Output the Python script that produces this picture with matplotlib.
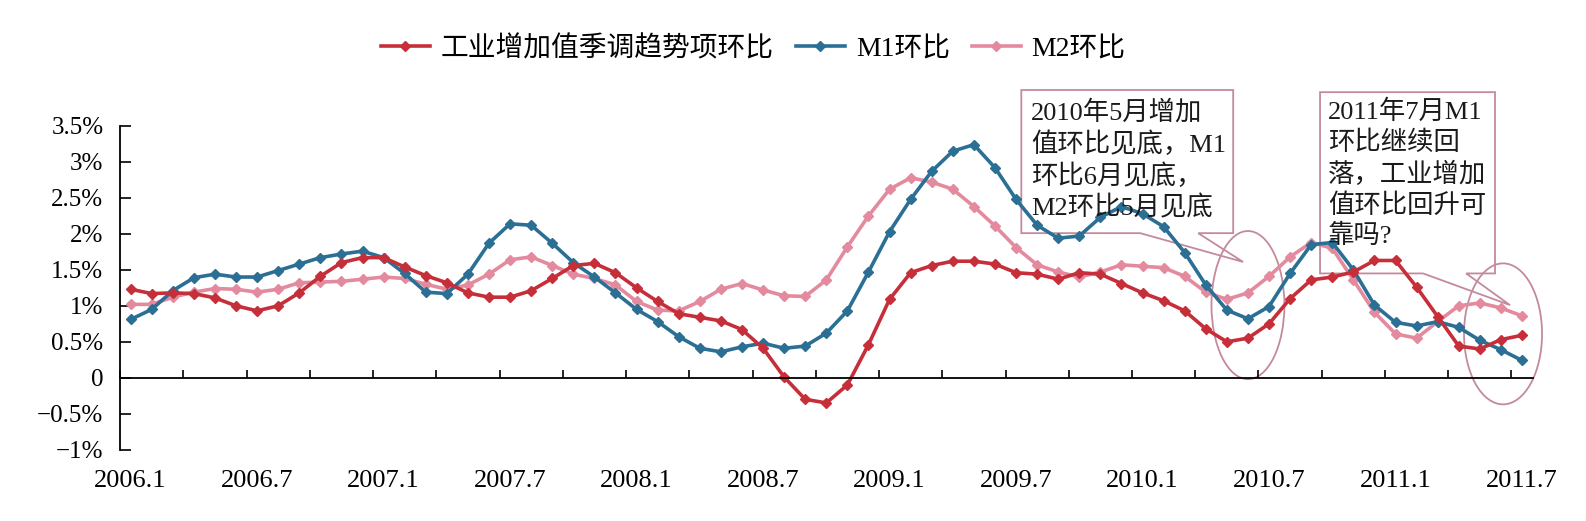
import matplotlib.pyplot as plt
from matplotlib.patches import Polygon, Ellipse
from matplotlib.transforms import blended_transform_factory

# monthly data 2006.1 - 2011.7 (%)
industry = [1.23, 1.17, 1.18, 1.17, 1.11, 1.00, 0.93, 1.00, 1.18, 1.41, 1.60, 1.67,
            1.67, 1.54, 1.42, 1.32, 1.18, 1.12, 1.12, 1.21, 1.38, 1.56, 1.59, 1.46,
            1.25, 1.06, 0.89, 0.84, 0.79, 0.67, 0.41, 0.01, -0.30, -0.35, -0.10, 0.46,
            1.09, 1.46, 1.56, 1.62, 1.62, 1.58, 1.46, 1.44, 1.37, 1.46, 1.44, 1.31,
            1.18, 1.07, 0.93, 0.68, 0.50, 0.55, 0.75, 1.10, 1.36, 1.40, 1.47, 1.63,
            1.63, 1.26, 0.85, 0.44, 0.40, 0.53, 0.59]
m1 = [0.81, 0.95, 1.21, 1.39, 1.44, 1.40, 1.40, 1.49, 1.58, 1.67, 1.72, 1.76,
      1.67, 1.45, 1.19, 1.17, 1.44, 1.87, 2.14, 2.12, 1.87, 1.60, 1.40, 1.18,
      0.95, 0.78, 0.57, 0.41, 0.36, 0.43, 0.48, 0.41, 0.44, 0.62, 0.93, 1.47,
      2.03, 2.48, 2.87, 3.15, 3.24, 2.92, 2.48, 2.12, 1.94, 1.97, 2.23, 2.38,
      2.28, 2.10, 1.74, 1.29, 0.94, 0.82, 0.99, 1.45, 1.85, 1.88, 1.50, 1.01,
      0.77, 0.72, 0.78, 0.70, 0.52, 0.39, 0.24]
m2 = [1.02, 1.02, 1.12, 1.19, 1.24, 1.23, 1.19, 1.23, 1.32, 1.33, 1.34, 1.37,
      1.40, 1.38, 1.30, 1.23, 1.29, 1.44, 1.64, 1.68, 1.56, 1.44, 1.38, 1.29,
      1.06, 0.94, 0.93, 1.06, 1.23, 1.31, 1.22, 1.14, 1.13, 1.36, 1.82, 2.25,
      2.62, 2.78, 2.72, 2.62, 2.38, 2.11, 1.81, 1.57, 1.47, 1.40, 1.47, 1.57,
      1.55, 1.53, 1.41, 1.19, 1.09, 1.18, 1.41, 1.68, 1.88, 1.80, 1.36, 0.91,
      0.61, 0.55, 0.78, 1.00, 1.04, 0.97, 0.86]
xlabels = ["2006.1", "2006.7", "2007.1", "2007.7", "2008.1", "2008.7",
           "2009.1", "2009.7", "2010.1", "2010.7", "2011.1", "2011.7"]
yticks = [-1, -0.5, 0, 0.5, 1, 1.5, 2, 2.5, 3, 3.5]
ylabels = ["\u22121%", "\u22120.5%", "0", "0.5%", "1%", "1.5%", "2%", "2.5%", "3%", "3.5%"]

note1 = "2010年5月增加\n值环比见底，M1\n环比6月见底，\nM2环比5月见底"
note2 = "2011年7月M1\n环比继续回\n落，工业增加\n值环比回升可\n靠吗?"

fonts = ["Liberation Serif", "Noto Sans CJK SC"]
red = "#c62f3a"
blue = "#2b6f95"
pink = "#e48a9f"
box_c = "#c48a9c"

fig = plt.figure(figsize=(15.86, 5.21), dpi=100)
ax = fig.add_axes([0.0757, 0.1369, 0.8906, 0.6213])

x = list(range(len(industry)))
l3, = ax.plot(x, m2, color=pink, lw=2.6, marker="D", ms=5, label="M2环比")
l2, = ax.plot(x, m1, color=blue, lw=2.6, marker="D", ms=5, label="M1环比")
l1, = ax.plot(x, industry, color=red, lw=2.6, marker="D", ms=5, label="工业增加值季调趋势项环比")

ax.set_xlim(-0.5, len(x) - 0.5)
ax.set_ylim(-1, 3.5)

# axes: x axis line sits on zero, labels at the bottom
ax.spines["top"].set_visible(False)
ax.spines["right"].set_visible(False)
ax.spines["bottom"].set_position(("data", 0))
ax.spines["bottom"].set_linewidth(1.3)
ax.spines["left"].set_linewidth(1.3)
ax.set_xticks([k - 0.5 for k in range(0, len(x), 3)])
ax.set_xticklabels([])
ax.tick_params(axis="x", direction="in", length=6, width=1.2)
ax.set_yticks(yticks)
ax.set_yticklabels(ylabels, family=fonts, fontsize=18)
ax.tick_params(axis="y", direction="in", length=8, width=1.2, pad=12)

trans = blended_transform_factory(ax.transData, ax.transAxes)
for i, lab in enumerate(xlabels):
    ax.text(i * 6, -0.097, lab, transform=trans, ha="center", va="center",
            fontsize=19, family=fonts)

# callout boxes
box1 = [(42.25, 4.0), (52.3, 4.0), (52.3, 2.01), (50.64, 2.01), (52.77, 1.61),
        (47.89, 2.01), (42.25, 2.01)]
box2 = [(56.42, 3.97), (64.72, 3.97), (64.72, 1.45), (63.35, 1.45), (65.43, 1.01),
        (61.31, 1.45), (56.42, 1.45)]
for b in [box1, box2]:
    ax.add_patch(Polygon(b, closed=True, fill=False, edgecolor=box_c, lw=1.3, clip_on=False))
ax.text(42.7, 3.87, note1, fontsize=19, family=fonts, va="top", ha="left",
        linespacing=1.33, color="#1a1a1a", clip_on=False)
ax.text(56.8, 3.87, note2, fontsize=19, family=fonts, va="top", ha="left",
        linespacing=1.33, color="#1a1a1a", clip_on=False)

ax.add_patch(Ellipse((53.0, 1.01), 3.46, 2.06, fill=False, edgecolor=box_c, lw=1.3, clip_on=False))
ax.add_patch(Ellipse((65.1, 0.61), 3.7, 1.96, fill=False, edgecolor=box_c, lw=1.3, clip_on=False))

fig.legend(handles=[l1, l2, l3], loc="center", bbox_to_anchor=(0.475, 0.906), ncol=3,
           frameon=False, prop={"family": fonts, "size": 20}, handlelength=1.75,
           handletextpad=0.4, columnspacing=0.8)

plt.savefig("out.png", dpi=100)
